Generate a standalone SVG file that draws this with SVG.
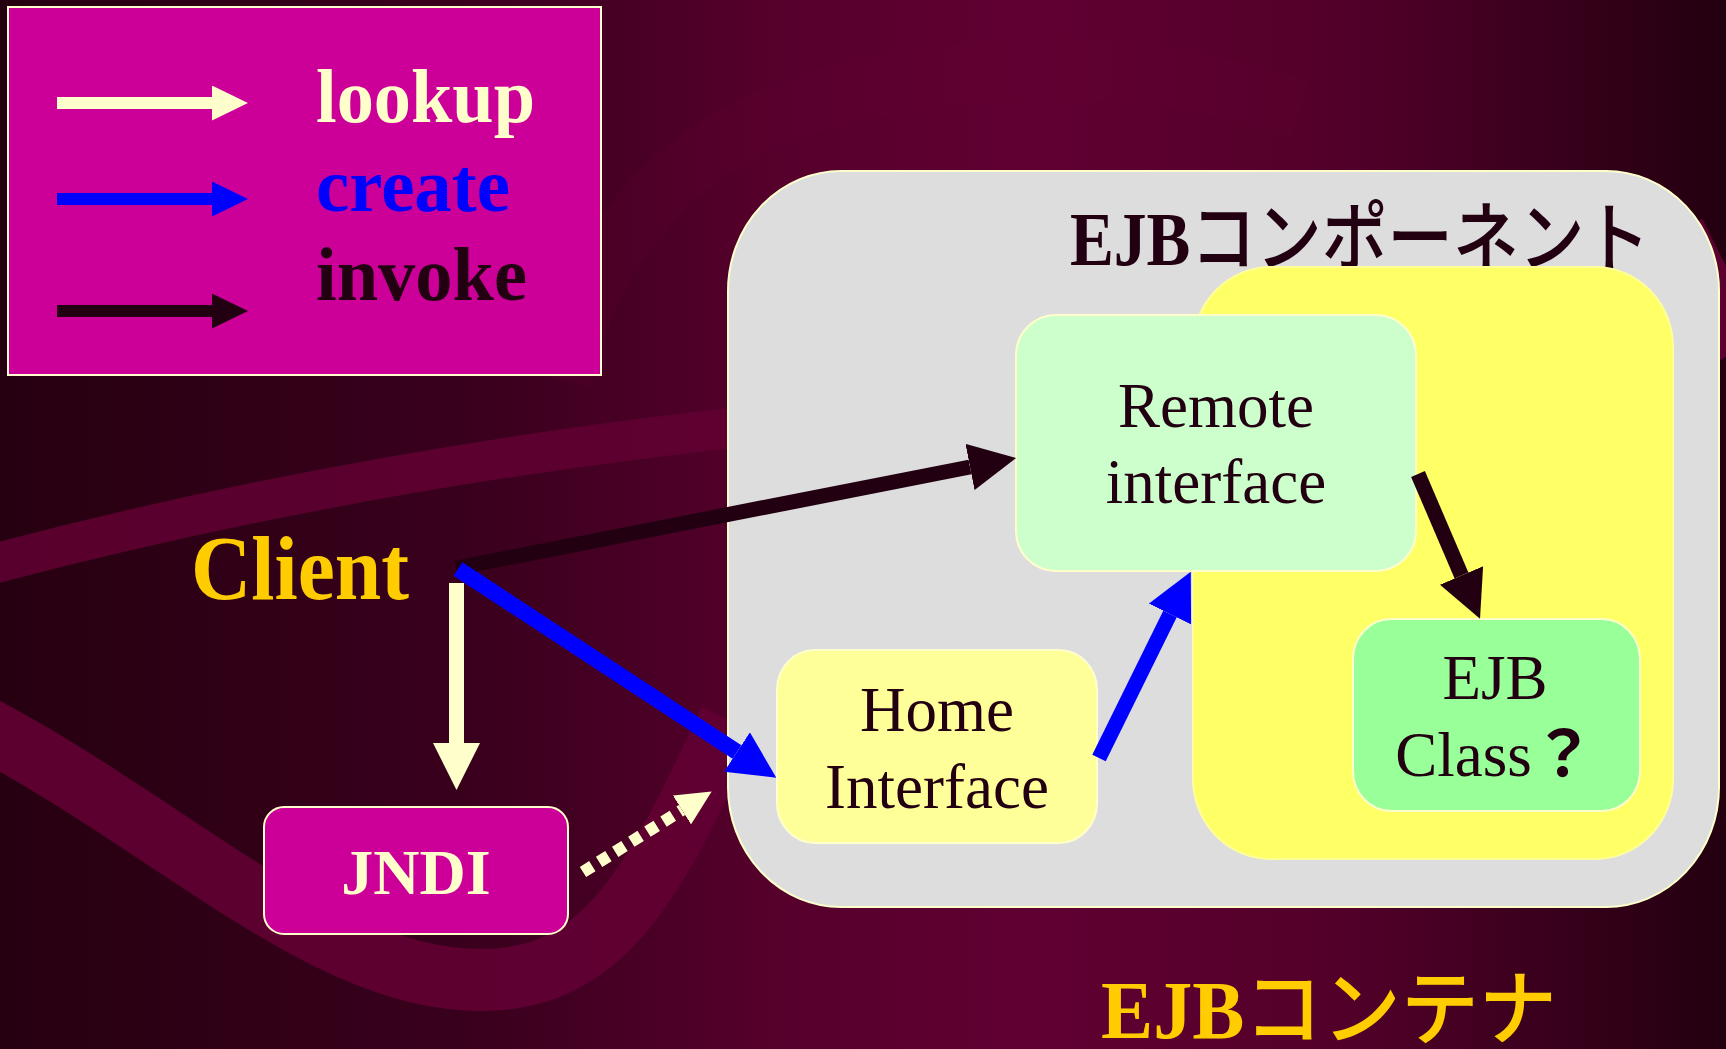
<svg xmlns="http://www.w3.org/2000/svg" width="1726" height="1049" viewBox="0 0 1726 1049">
  <defs>
    <linearGradient id="bg" x1="0" y1="0" x2="1" y2="0">
      <stop offset="0" stop-color="#260010"/>
      <stop offset="0.28" stop-color="#3a001d"/>
      <stop offset="0.45" stop-color="#56002c"/>
      <stop offset="0.6" stop-color="#600032"/>
      <stop offset="0.78" stop-color="#520029"/>
      <stop offset="1" stop-color="#230010"/>
    </linearGradient>
    <marker id="hLookup" markerUnits="userSpaceOnUse" viewBox="0 0 47 47" markerWidth="47" markerHeight="47" refX="0" refY="23.5" orient="auto">
      <path d="M0,0 L47,23.5 L0,47 z" fill="#FFFFCC"/>
    </marker>
    <marker id="hCreate" markerUnits="userSpaceOnUse" viewBox="0 0 47 47" markerWidth="47" markerHeight="47" refX="0" refY="23.5" orient="auto">
      <path d="M0,0 L47,23.5 L0,47 z" fill="#0000FF"/>
    </marker>
    <marker id="hInvoke" markerUnits="userSpaceOnUse" viewBox="0 0 47 47" markerWidth="47" markerHeight="47" refX="0" refY="23.5" orient="auto">
      <path d="M0,0 L47,23.5 L0,47 z" fill="#220011"/>
    </marker>
    <marker id="hDot" markerUnits="userSpaceOnUse" viewBox="0 0 35 34" markerWidth="35" markerHeight="34" refX="0" refY="17" orient="auto">
      <path d="M0,0 L35,17 L0,34 z" fill="#FFFFCC"/>
    </marker>
    <marker id="lgLookup" markerUnits="userSpaceOnUse" viewBox="0 0 36 35" markerWidth="36" markerHeight="35" refX="0" refY="17.5" orient="auto">
      <path d="M0,0 L36,17.5 L0,35 z" fill="#FFFFCC"/>
    </marker>
    <marker id="lgCreate" markerUnits="userSpaceOnUse" viewBox="0 0 36 35" markerWidth="36" markerHeight="35" refX="0" refY="17.5" orient="auto">
      <path d="M0,0 L36,17.5 L0,35 z" fill="#0000FF"/>
    </marker>
    <marker id="lgInvoke" markerUnits="userSpaceOnUse" viewBox="0 0 36 35" markerWidth="36" markerHeight="35" refX="0" refY="17.5" orient="auto">
      <path d="M0,0 L36,17.5 L0,35 z" fill="#220011"/>
    </marker>
    <style>
      .node { stroke: #FFFFCC; stroke-width: 2; }
      .serif { font-family: "Liberation Serif", "Times New Roman", serif; }
      .bold { font-weight: bold; }
      .lbl { font-family: "Liberation Serif", "Times New Roman", "Noto Sans CJK JP", serif; font-size: 63px; fill: #220011; text-anchor: middle; }
      .band { fill: none; stroke: #620033; stroke-linecap: butt; }
      .lookup { stroke: #FFFFCC; fill: none; }
      .create { stroke: #0000FF; fill: none; }
      .invoke { stroke: #220011; fill: none; }
    </style>
  </defs>

  <!-- background -->
  <rect x="0" y="0" width="1726" height="1049" fill="url(#bg)"/>
  <path class="band" d="M -30,570 Q 350,468 760,425" stroke-width="40" opacity="0.85"/>
  <path class="band" d="M -40,715 C 150,810 300,960 450,978 S 650,890 730,720" stroke-width="62" opacity="0.9"/>
  <path class="band" d="M 560,380 Q 620,140 860,90 T 1300,110" stroke-width="60" opacity="0.2"/>
  <path class="band" d="M 1680,230 L 1740,350" stroke-width="50" opacity="0.9"/>

  <!-- legend -->
  <g id="legend">
    <rect x="8" y="7" width="593" height="368" fill="#CC0099" class="node"/>
    <line x1="57" y1="103" x2="212" y2="103" stroke-width="12" class="lookup" marker-end="url(#lgLookup)"/>
    <line x1="57" y1="199" x2="212" y2="199" stroke-width="12" class="create" marker-end="url(#lgCreate)"/>
    <line x1="57" y1="311" x2="212" y2="311" stroke-width="12" class="invoke" marker-end="url(#lgInvoke)"/>
    <text x="316" y="122" class="serif bold" font-size="76" fill="#FFFFCC" textLength="219" lengthAdjust="spacingAndGlyphs">lookup</text>
    <text x="316" y="211" class="serif bold" font-size="76" fill="#0000FF" textLength="194" lengthAdjust="spacingAndGlyphs">create</text>
    <text x="316" y="300" class="serif bold" font-size="76" fill="#220011" textLength="211" lengthAdjust="spacingAndGlyphs">invoke</text>
  </g>

  <!-- EJB component (gray) -->
  <g id="ejb-component">
    <rect x="728" y="171" width="991" height="736" rx="113" ry="120" fill="#DDDDDD" class="node"/>
    <text x="1070" y="265" font-size="76" fill="#220011" textLength="580" lengthAdjust="spacingAndGlyphs"><tspan class="serif bold">EJB</tspan><tspan font-family="'Noto Sans CJK JP', sans-serif" font-weight="500">コンポーネント</tspan></text>
  </g>

  <!-- EJB container area (yellow) -->
  <g id="ejb-container">
    <rect x="1193" y="267" width="480" height="592" rx="78" ry="80" fill="#FFFF66" stroke="#FFFF99" stroke-width="2"/>
  </g>

  <g id="remote-interface">
    <rect x="1016" y="315" width="400" height="256" rx="40" ry="40" fill="#CCFFCC" class="node"/>
    <text class="lbl" x="1216" y="427">Remote</text>
    <text class="lbl" x="1216" y="503">interface</text>
  </g>

  <g id="home-interface">
    <rect x="777" y="650" width="320" height="193" rx="38" ry="40" fill="#FFFF99" class="node"/>
    <text class="lbl" x="937" y="731">Home</text>
    <text class="lbl" x="937" y="808">Interface</text>
  </g>

  <g id="ejb-class">
    <rect x="1353" y="619" width="287" height="192" rx="38" ry="40" fill="#99FF99" class="node"/>
    <text class="lbl" x="1495" y="699">EJB</text>
    <text class="lbl" x="1495" y="776">Class<tspan font-family="'Noto Sans CJK JP', sans-serif" font-weight="bold">？</tspan></text>
  </g>

  <g id="client">
    <text x="191" y="599" class="serif bold" font-size="90" fill="#FFCC00" textLength="218" lengthAdjust="spacingAndGlyphs">Client</text>
  </g>

  <g id="jndi">
    <rect x="264" y="807" width="304" height="127" rx="20" ry="20" fill="#CC0099" class="node"/>
    <text x="416" y="894" class="serif bold" font-size="64" fill="#FFFFCC" text-anchor="middle">JNDI</text>
  </g>

  <g id="container-label">
    <text x="1101" y="1038" font-size="82" fill="#FFCC00" textLength="456" lengthAdjust="spacingAndGlyphs"><tspan class="serif bold">EJB</tspan><tspan font-family="'Noto Sans CJK JP', sans-serif" font-weight="500">コンテナ</tspan></text>
  </g>

  <!-- connectors -->
  <g id="connectors">
    <line x1="456.5" y1="583" x2="456.5" y2="743" stroke-width="15" class="lookup" marker-end="url(#hLookup)"/>
    <line x1="456" y1="568" x2="970" y2="467" stroke-width="15" class="invoke" marker-end="url(#hInvoke)"/>
    <line x1="458" y1="569" x2="737" y2="752" stroke-width="16" class="create" marker-end="url(#hCreate)"/>
    <line x1="1099" y1="758" x2="1170" y2="614" stroke-width="15" class="create" marker-end="url(#hCreate)"/>
    <line x1="1418" y1="474" x2="1461.5" y2="575.5" stroke-width="15" class="invoke" marker-end="url(#hInvoke)"/>
    <line x1="583" y1="872" x2="682" y2="810" stroke-width="12" class="lookup" stroke-dasharray="11 8" marker-end="url(#hDot)"/>
  </g>
</svg>
